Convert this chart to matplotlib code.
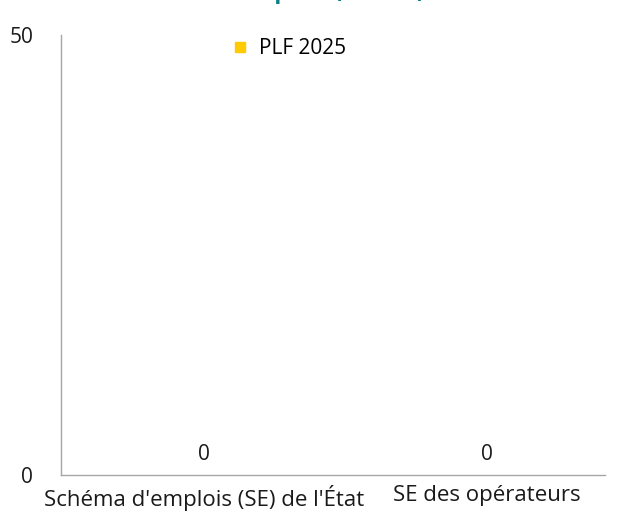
import matplotlib
matplotlib.use("Agg")
from matplotlib import pyplot as plt

categories = ["Schéma d'emplois (SE) de l'État", "SE des opérateurs"]
plf_2025 = [0, 0]
series_name = "PLF 2025"
title = "Schéma d'emplois (en ETP)"

plt.rcParams['font.family'] = ['Open Sans', 'DejaVu Sans']
text_color = "#1a1a1a"

fig = plt.figure(figsize=(6.19, 5.11), dpi=100)
ax = fig.add_axes([61 / 619, 36 / 511, 544 / 619, 440 / 511])

x = list(range(len(categories)))
ax.bar(x, plf_2025, width=0.5, color="#FFCA00", label=series_name)
for xi, v in zip(x, plf_2025):
    ax.annotate(str(v), (xi, v), xytext=(0, 7.5), textcoords="offset points",
                ha="center", va="bottom", fontsize=15, color=text_color)

ax.set_xlim(-0.505, 1.417)
ax.set_ylim(0, 50)
ax.set_yticks([0, 50])
ax.set_xticks(x)
ax.set_xticklabels(categories, fontsize=16, color=text_color)
ax.tick_params(axis="y", labelsize=15, length=0, pad=20, labelcolor=text_color)
ax.tick_params(axis="x", length=0, pad=7)

for side in ["top", "right"]:
    ax.spines[side].set_visible(False)
for side in ["left", "bottom"]:
    ax.spines[side].set_color("#a6a6a6")
    ax.spines[side].set_linewidth(1)

handle = plt.Line2D([], [], marker="s", linestyle="none", color="#FFCA00", markersize=7.5)
ax.legend([handle], [series_name], loc="upper left", bbox_to_anchor=(0.275, 1.035),
          frameon=False, fontsize=15, handletextpad=0.4, handlelength=1)

fig.text(274 / 619, 1.0 + 2 / 511, title, ha="center", va="baseline",
         fontsize=16.5, fontweight="bold", color="#0B7E86")

fig.savefig("out.png", dpi=100)
